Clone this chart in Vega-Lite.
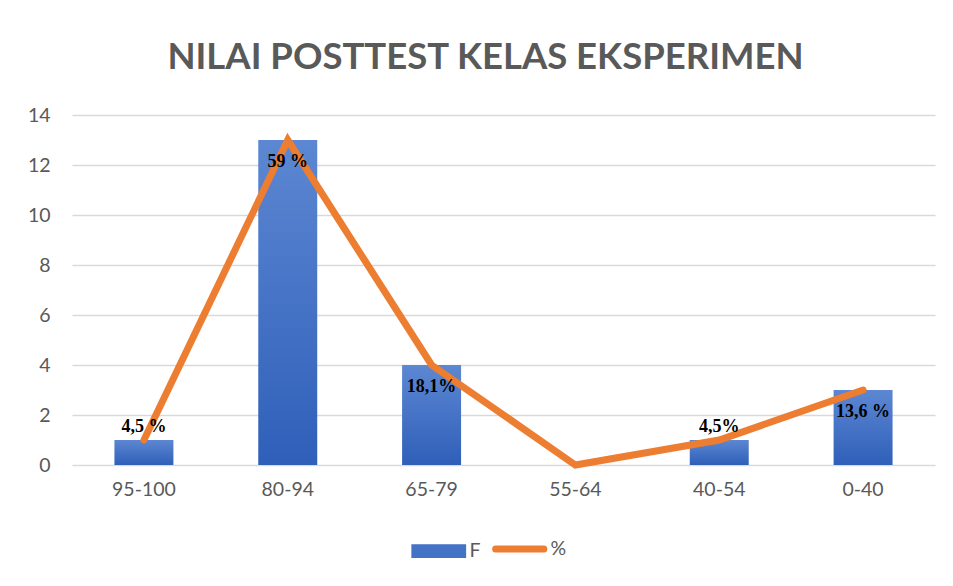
{
  "$schema": "https://vega.github.io/schema/vega-lite/v6.json",
  "width": 863,
  "height": 350,
  "autosize": {"type": "none"},
  "padding": {"left": 72, "top": 115, "right": 18, "bottom": 121},
  "background": "white",
  "title": {
    "text": "NILAI POSTTEST KELAS EKSPERIMEN",
    "font": "Lato",
    "fontSize": 36.5,
    "fontWeight": "bold",
    "color": "#595959",
    "anchor": "middle",
    "frame": "group",
    "baseline": "alphabetic",
    "offset": 0,
    "dx": -18
  },
  "data": {
    "values": [
      {"kelas": "95-100", "F": 1, "label": "4,5 %"},
      {"kelas": "80-94", "F": 13, "label": "59 %"},
      {"kelas": "65-79", "F": 4, "label": "18,1%"},
      {"kelas": "55-64", "F": 0, "label": ""},
      {"kelas": "40-54", "F": 1, "label": "4,5%"},
      {"kelas": "0-40", "F": 3, "label": "13,6 %"}
    ]
  },
  "encoding": {
    "x": {
      "field": "kelas",
      "type": "nominal",
      "sort": null,
      "title": null,
      "scale": {"paddingInner": 0.59, "paddingOuter": 0.295},
      "axis": {
        "labelAngle": 0,
        "labelFont": "Lato",
        "labelFontSize": 19.5,
        "labelColor": "#595959",
        "labelPadding": 15,
        "ticks": false,
        "domain": false,
        "grid": false
      }
    },
    "y": {
      "field": "F",
      "type": "quantitative",
      "title": null,
      "scale": {"domain": [0, 14]},
      "axis": {
        "values": [0, 2, 4, 6, 8, 10, 12, 14],
        "labelFont": "Lato",
        "labelFontSize": 19.5,
        "labelColor": "#595959",
        "labelPadding": 22,
        "ticks": false,
        "domain": false,
        "gridColor": "#D9D9D9",
        "gridWidth": 1.5
      }
    }
  },
  "layer": [
    {
      "mark": {
        "type": "bar",
        "fill": {
          "gradient": "linear",
          "x1": 0, "y1": 0, "x2": 0, "y2": 1,
          "stops": [
            {"offset": 0, "color": "#5C87D2"},
            {"offset": 1, "color": "#2F5FB9"}
          ]
        }
      }
    },
    {
      "mark": {"type": "line", "strokeWidth": 7, "strokeCap": "round", "strokeJoin": "miter"},
      "encoding": {
        "color": {
          "datum": "%",
          "scale": {"domain": ["F", "%"], "range": ["#4472C4", "#ED7D31"]},
          "legend": {
            "title": null,
            "orient": "none",
            "direction": "horizontal",
            "legendX": 357,
            "legendY": 424,
            "padding": 0,
            "symbolSize": 3000,
            "labelFont": "Lato",
            "labelFontSize": 19.5,
            "labelColor": "#595959",
            "labelOffset": 21,
            "columnPadding": 0,
            "encode": {
              "symbols": {
                "update": {
                  "shape": {"signal": "datum.value === 'F' ? 'M-1,-0.25H1V0.25H-1Z' : 'M-0.88,0H0.88'"},
                  "fill": {"signal": "datum.value === 'F' ? '#4472C4' : 'transparent'"},
                  "stroke": {"signal": "datum.value === 'F' ? 'transparent' : '#ED7D31'"},
                  "strokeWidth": {"signal": "datum.value === 'F' ? 0 : 7"},
                  "strokeCap": {"value": "round"}
                }
              }
            }
          }
        }
      }
    },
    {
      "transform": [{"filter": "datum.kelas === '95-100' || datum.kelas === '40-54'"}],
      "mark": {"type": "text", "font": "Liberation Serif", "fontWeight": "bold", "fontSize": 18, "color": "black", "baseline": "middle", "dy": -13},
      "encoding": {"text": {"field": "label"}}
    },
    {
      "transform": [{"filter": "datum.kelas === '80-94' || datum.kelas === '65-79' || datum.kelas === '0-40'"}],
      "mark": {"type": "text", "font": "Liberation Serif", "fontWeight": "bold", "fontSize": 18, "color": "black", "baseline": "middle", "dy": 22},
      "encoding": {"text": {"field": "label"}}
    }
  ],
  "config": {
    "view": {"stroke": null}
  }
}
